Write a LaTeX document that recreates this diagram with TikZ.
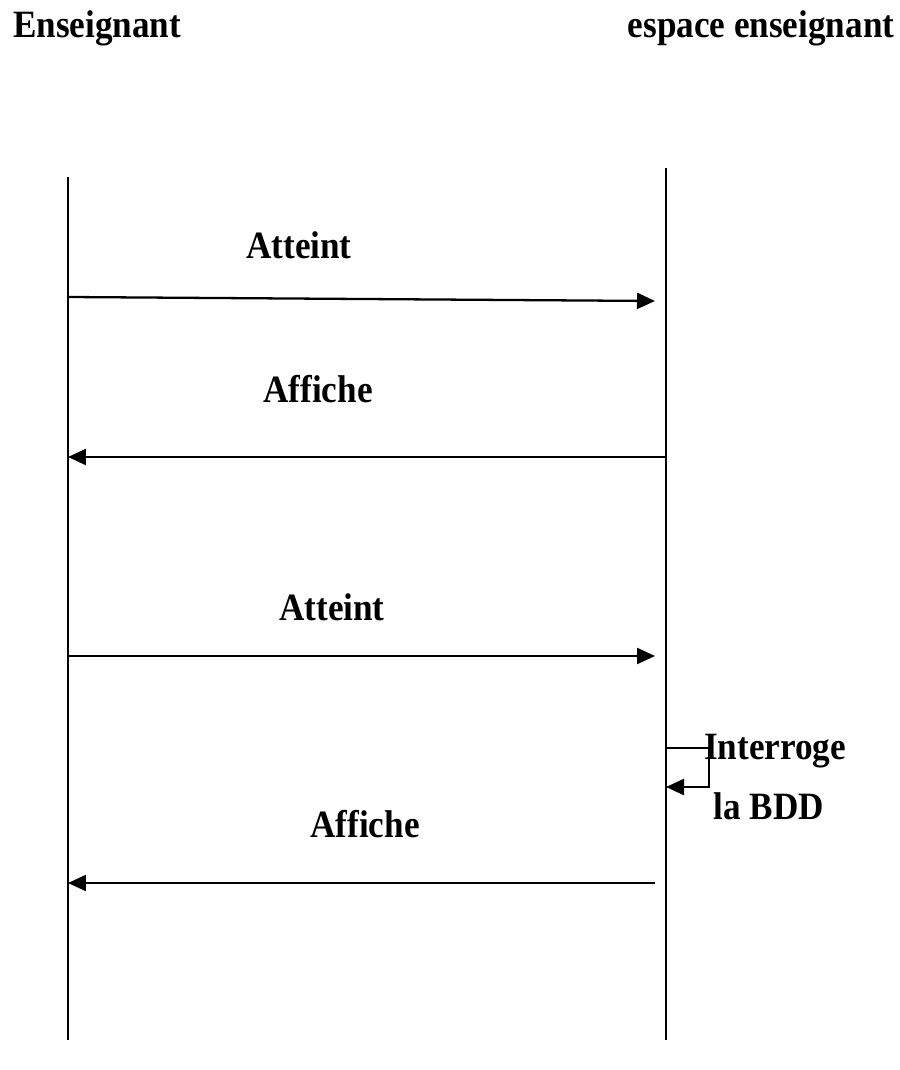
\documentclass[tikz,border=0pt]{standalone}
\usepackage{fontspec}
\setmainfont{Liberation Serif}
\usepackage{tikz}
\usetikzlibrary{arrows.meta,positioning}
\tikzstyle{lifeline} = [line width=1.2pt,color=black]
\tikzstyle{message} = [line width=1.3pt,-{Triangle[length=3.6mm,width=3.2mm]}]
\tikzstyle{msglabel} = [font=\fontsize{20}{24}\selectfont\bfseries, inner sep=0pt, yscale=1.1]

\begin{document}
\begin{tikzpicture}[x=0.02cm,y=-0.02cm]
\useasboundingbox (0,0) rectangle (899,1070);
% Actors
\node[msglabel] (ens) at (97,28) {Enseignant};
\node[msglabel] (esp) at (761,28) {espace enseignant};

% Lifelines
\coordinate (ltop) at (68,177);
\coordinate (lbot) at (68,1040);
\coordinate (rtop) at (666,168);
\coordinate (rbot) at (666,1040);
\draw[lifeline] (ltop) -- (lbot);
\draw[lifeline] (rtop) -- (rbot);

% Messages
\coordinate (m1a) at (68,297);
\coordinate (m1b) at (655,301);
\draw[message] (m1a) -- (m1b);
\node[msglabel] (l1) at (299,245) {Atteint};

\coordinate (m2a) at (666,457);
\coordinate (m2b) at (68,457);
\draw[message] (m2a) -- (m2b);
\node[msglabel] (l2) at (318,389) {Affiche};

\coordinate (m3a) at (68,656);
\coordinate (m3b) at (655,656);
\draw[message] (m3a) -- (m3b);
\node[msglabel] (l3) at (332,607) {Atteint};

% Self message
\coordinate (s1) at (666,748);
\coordinate (s2) at (666,787);
\draw[message] (s1) -| (709,787) -- (s2);
\node[msglabel] (l4) at (775,751) {Interroge};
\node[msglabel] (l5) at (769,806) {la BDD};

\coordinate (m4a) at (655,883);
\coordinate (m4b) at (68,883);
\draw[message] (m4a) -- (m4b);
\node[msglabel] (l6) at (365,824) {Affiche};
\end{tikzpicture}
\end{document}
